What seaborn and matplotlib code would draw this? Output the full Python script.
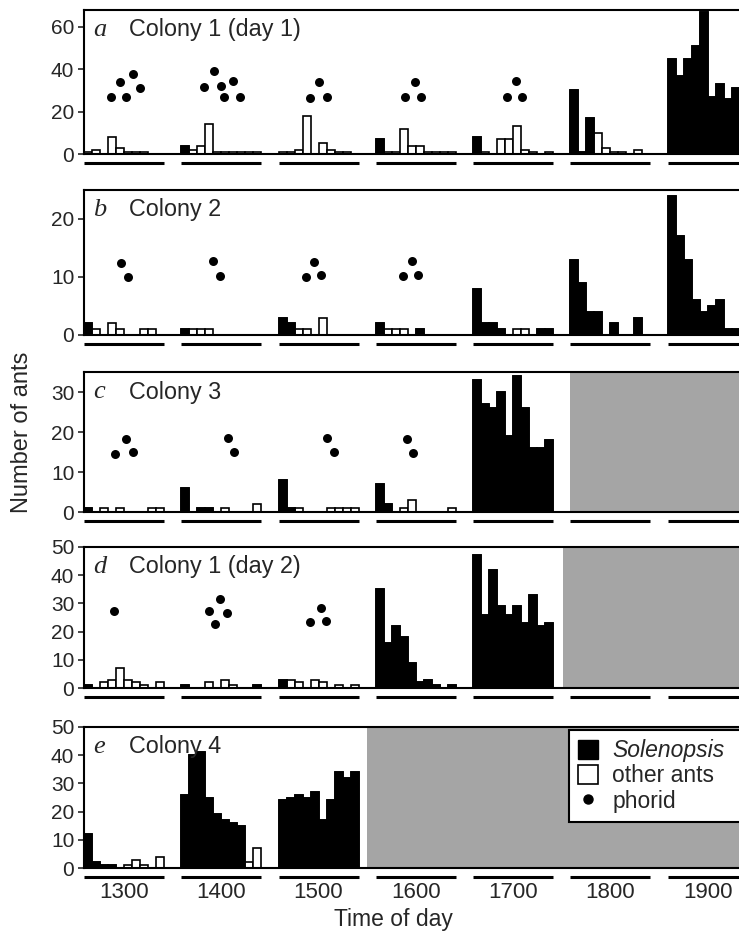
import numpy as np
import pandas as pd
import matplotlib
matplotlib.use("Agg")
import matplotlib.pyplot as plt
import seaborn as sns
from matplotlib.patches import Patch
from matplotlib.lines import Line2D
from matplotlib.transforms import blended_transform_factory

# ---------------- data ----------------
hours = ["1300", "1400", "1500", "1600", "1700", "1800", "1900"]
panel_letters = ["a", "b", "c", "d", "e"]
panel_titles = ["Colony 1 (day 1)", "Colony 2", "Colony 3", "Colony 1 (day 2)", "Colony 4"]
y_max = [68, 25, 35, 50, 50]
y_ticks = [[0, 20, 40, 60], [0, 10, 20], [0, 10, 20, 30],
           [0, 10, 20, 30, 40, 50], [0, 10, 20, 30, 40, 50]]

# Solenopsis / other ants per bin (10 bins per hour); None = hour not observed
a_sol = [[0, 0, 0, 0, 0, 0, 0, 0, 0, 0],
         [4, 0, 0, 0, 0, 0, 0, 0, 0, 0],
         [0, 0, 0, 0, 0, 0, 0, 0, 0, 0],
         [7, 0, 0, 0, 0, 0, 0, 0, 0, 0],
         [8, 0, 0, 0, 0, 0, 0, 0, 0, 0],
         [30, 1, 17, 0, 0, 0, 0, 0, 0, 0],
         [45, 37, 45, 51, 67, 27, 33, 26, 31, 28]]
a_oth = [[1, 2, 0, 8, 3, 1, 1, 1, 0, 0],
         [0, 2, 4, 14, 1, 1, 1, 1, 1, 1],
         [1, 1, 2, 18, 0, 5, 2, 1, 1, 0],
         [0, 1, 1, 12, 4, 4, 1, 1, 1, 1],
         [0, 1, 0, 7, 7, 13, 2, 1, 0, 1],
         [0, 0, 0, 10, 3, 1, 1, 0, 2, 0],
         [0, 0, 0, 0, 0, 0, 0, 0, 0, 0]]

b_sol = [[2, 0, 0, 0, 0, 0, 0, 0, 0, 0],
         [1, 0, 0, 0, 0, 0, 0, 0, 0, 0],
         [3, 2, 0, 0, 0, 0, 0, 0, 0, 0],
         [2, 0, 0, 0, 0, 1, 0, 0, 0, 0],
         [8, 2, 2, 1, 0, 0, 0, 0, 1, 1],
         [13, 9, 4, 4, 0, 2, 0, 0, 3, 0],
         [24, 17, 13, 6, 4, 5, 6, 1, 1, 1]]
b_oth = [[0, 1, 0, 2, 1, 0, 0, 1, 1, 0],
         [0, 1, 1, 1, 0, 0, 0, 0, 0, 0],
         [0, 0, 1, 1, 0, 3, 0, 0, 0, 0],
         [0, 1, 1, 1, 0, 0, 0, 0, 0, 0],
         [0, 0, 0, 0, 0, 1, 1, 0, 0, 0],
         [0, 0, 0, 0, 0, 0, 0, 0, 0, 0],
         [0, 0, 0, 0, 0, 0, 0, 0, 0, 0]]

c_sol = [[1, 0, 0, 0, 0, 0, 0, 0, 0, 0],
         [6, 0, 1, 1, 0, 0, 0, 0, 0, 0],
         [8, 1, 0, 0, 0, 0, 0, 0, 0, 0],
         [7, 2, 0, 0, 0, 0, 0, 0, 0, 0],
         [33, 27, 26, 30, 19, 34, 26, 16, 16, 18],
         None, None]
c_oth = [[0, 0, 1, 0, 1, 0, 0, 0, 1, 1],
         [0, 0, 0, 0, 0, 1, 0, 0, 0, 2],
         [0, 0, 1, 0, 0, 0, 1, 1, 1, 1],
         [0, 0, 0, 1, 3, 0, 0, 0, 0, 1],
         [0, 0, 0, 0, 0, 0, 0, 0, 0, 0],
         None, None]

d_sol = [[1, 0, 0, 0, 0, 0, 0, 0, 0, 0],
         [1, 0, 0, 0, 0, 0, 0, 0, 0, 1],
         [3, 0, 0, 0, 0, 0, 0, 0, 0, 0],
         [35, 16, 22, 18, 9, 2, 3, 1, 0, 1],
         [47, 26, 42, 29, 26, 29, 23, 33, 22, 23],
         None, None]
d_oth = [[0, 0, 2, 3, 7, 3, 2, 1, 0, 2],
         [0, 0, 0, 2, 0, 3, 1, 0, 0, 0],
         [0, 3, 2, 0, 3, 2, 0, 1, 0, 1],
         [0, 0, 0, 0, 0, 0, 0, 0, 0, 0],
         [0, 0, 0, 0, 0, 0, 0, 0, 0, 0],
         None, None]

e_sol = [[12, 2, 1, 1, 0, 0, 0, 0, 0, 0],
         [26, 40, 41, 25, 19, 17, 16, 15, 0, 0],
         [24, 25, 26, 25, 27, 17, 24, 34, 32, 34],
         None, None, None, None]
e_oth = [[0, 0, 0, 0, 0, 1, 3, 1, 0, 4],
         [0, 0, 0, 0, 0, 0, 0, 0, 2, 7],
         [0, 0, 0, 0, 0, 0, 0, 0, 0, 0],
         None, None, None, None]

# phorid flies: hour index, position within hour (bins), plotted height
a_ph_hour = [0, 0, 0, 0, 0, 1, 1, 1, 1, 1, 1, 2, 2, 2, 3, 3, 3, 4, 4, 4]
a_ph_pos = [3.33, 4.54, 5.2, 6.1, 6.96, 2.9, 4.1, 5.0, 5.3, 6.5, 7.3,
            3.9, 5.1, 6.0, 3.7, 4.9, 5.6, 4.2, 5.4, 6.1]
a_ph_y = [27, 34, 27, 37.7, 31.3, 31.8, 39.2, 32, 27, 34.3, 27,
          26.6, 33.8, 27, 26.7, 34, 27, 27, 34.4, 27]

b_ph_hour = [0, 0, 1, 1, 2, 2, 2, 3, 3, 3]
b_ph_pos = [4.67, 5.5, 4.0, 4.85, 3.4, 4.45, 5.3, 3.35, 4.5, 5.3]
b_ph_y = [12.4, 10, 12.7, 10.2, 10, 12.5, 10.3, 10.2, 12.7, 10.4]

c_ph_hour = [0, 0, 0, 1, 1, 2, 2, 3, 3]
c_ph_pos = [3.9, 5.3, 6.1, 5.8, 6.6, 6.1, 6.9, 3.9, 4.7]
c_ph_y = [14.6, 18.3, 15, 18.5, 15, 18.5, 15, 18.2, 14.75]

d_ph_hour = [0, 1, 1, 1, 1, 2, 2, 2]
d_ph_pos = [3.75, 3.5, 4.8, 4.2, 5.75, 5.3, 3.9, 5.9]
d_ph_y = [27.3, 27.3, 31.4, 22.6, 26.5, 28.5, 23.3, 23.8]

e_ph_hour = []
e_ph_pos = []
e_ph_y = []

sol_data = [a_sol, b_sol, c_sol, d_sol, e_sol]
oth_data = [a_oth, b_oth, c_oth, d_oth, e_oth]
ph_data = [(a_ph_hour, a_ph_pos, a_ph_y), (b_ph_hour, b_ph_pos, b_ph_y),
           (c_ph_hour, c_ph_pos, c_ph_y), (d_ph_hour, d_ph_pos, d_ph_y),
           (e_ph_hour, e_ph_pos, e_ph_y)]

# ---------------- layout ----------------
PERIOD = 12.16          # bins per hour slot (10 bins + gap)
NBINS = 10
XLIM = (-0.5, -0.5 + 655 / 8.0)
shade_start = [None, None, (5, 0.0), (5, -0.9), (3, -1.1)]   # (hour idx, offset)

sns.set_style("ticks")
plt.rcParams["font.family"] = ["Liberation Sans", "DejaVu Sans"]
plt.rcParams["axes.linewidth"] = 1.4

fig = plt.figure(figsize=(7.39, 9.35), dpi=100)
W, H = 739.0, 935.0
panel_px = [(10, 154), (190, 335), (372, 512), (547, 688), (727, 868)]
left_px = 84

for p in range(5):
    top, bot = panel_px[p]
    ax = fig.add_axes([left_px / W, 1 - bot / H, 1 - left_px / W, (bot - top) / H])
    hpx = bot - top

    rows = []
    for k, h in enumerate(hours):
        s = sol_data[p][k]
        o = oth_data[p][k]
        if s is None:
            continue
        for j in range(NBINS):
            rows.append({"x": round(k * PERIOD + j, 3), "sol": s[j], "oth": o[j],
                         "total": s[j] + o[j]})
    df = pd.DataFrame(rows)

    if shade_start[p] is not None:
        k0, off = shade_start[p]
        ax.axvspan(k0 * PERIOD - 0.5 + off, XLIM[1] + 5, color="#a5a5a5", lw=0, zorder=0)

    sns.barplot(data=df, x="x", y="total", native_scale=True, width=1.0,
                color="white", saturation=1, edgecolor="black", linewidth=1.2,
                errorbar=None, ax=ax, zorder=2)
    sns.barplot(data=df, x="x", y="sol", native_scale=True, width=1.0,
                color="black", saturation=1, edgecolor="black", linewidth=1.2,
                errorbar=None, ax=ax, zorder=3)

    ph_h, ph_p, ph_y = ph_data[p]
    if len(ph_h):
        ph_x = [hh * PERIOD - 0.5 + pp for hh, pp in zip(ph_h, ph_p)]
        sns.scatterplot(x=ph_x, y=ph_y, color="black", s=42, linewidth=0,
                        ax=ax, zorder=4)

    ax.set_xlim(*XLIM)
    ax.set_ylim(0, y_max[p])
    ax.set_yticks(y_ticks[p])
    ax.set_yticklabels([str(t) for t in y_ticks[p]], fontsize=15)
    ax.tick_params(axis="y", length=4, width=1.2, pad=3, direction="out")
    ax.set_xlabel("")
    ax.set_ylabel("")
    ax.spines["right"].set_visible(False)
    for sp in ["left", "top", "bottom"]:
        ax.spines[sp].set_linewidth(1.5)
        ax.spines[sp].set_color("black")

    if p == 4:
        ax.set_xticks([k * PERIOD + 4.5 for k in range(len(hours))])
        ax.set_xticklabels(hours, fontsize=16)
        ax.tick_params(axis="x", length=0, pad=10)
    else:
        ax.set_xticks([])

    # hour underlines
    tr = blended_transform_factory(ax.transData, ax.transAxes)
    yl = -9.0 / hpx
    for k in range(len(hours)):
        ax.plot([k * PERIOD - 0.5, k * PERIOD + NBINS - 0.5], [yl, yl], color="black",
                lw=2.2, transform=tr, clip_on=False, solid_capstyle="butt")

    ytxt = 1 - 20.0 / hpx
    ax.text(0.014, ytxt, panel_letters[p], transform=ax.transAxes, fontsize=19,
            family=["Liberation Serif", "DejaVu Serif"], style="italic",
            va="center", ha="left", zorder=6)
    ax.text(0.068, ytxt, panel_titles[p], transform=ax.transAxes, fontsize=16.8,
            va="center", ha="left", zorder=6)

    if p == 4:
        handles = [Patch(facecolor="black", edgecolor="black"),
                   Patch(facecolor="white", edgecolor="black", linewidth=1.2),
                   Line2D([], [], marker="o", color="black", linestyle="",
                          markersize=6.5)]
        leg = ax.legend(handles, ["Solenopsis", "other ants", "phorid"],
                        loc="upper left", bbox_to_anchor=(0.74, 0.979, 0.35, 0),
                        mode="expand", borderaxespad=0, fontsize=16.5,
                        frameon=True, fancybox=False, framealpha=1,
                        edgecolor="black", handlelength=0.9, handleheight=0.9,
                        handletextpad=0.6, labelspacing=0.1, borderpad=0.4)
        leg.get_frame().set_linewidth(1.5)
        leg.set_zorder(10)
        leg.get_texts()[0].set_style("italic")

fig.text(0.030, 0.538, "Number of ants", rotation=90, ha="center", va="center",
         fontsize=17)
fig.text(0.532, 0.0165, "Time of day", ha="center", va="center", fontsize=16.5)

fig.savefig("out.png", dpi=100)
